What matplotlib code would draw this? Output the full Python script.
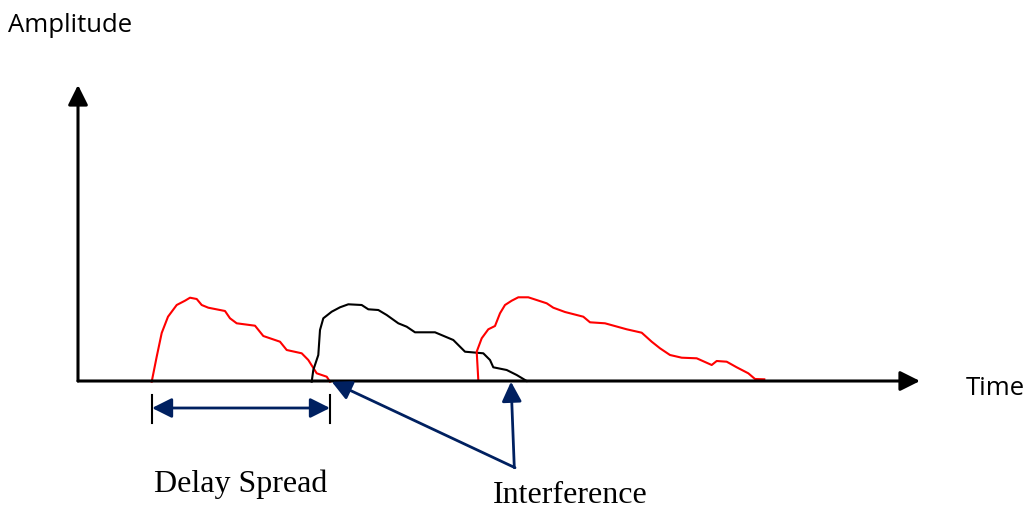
import matplotlib.pyplot as plt

# pulse shapes: time / amplitude (origin at the axis corner)
red1_t = [73.7, 78.7, 83.7, 90, 98.7, 107, 112, 118.7, 123.7, 130.3, 147, 152, 158.7,
          177, 185.3, 202, 208.7, 223.7, 230.3, 238.7, 248.7, 252]
red1_a = [-0.7, 24.3, 48, 64.3, 76, 80.3, 83.3, 82, 76, 73.3, 70, 62.7, 57.7,
          55.3, 45, 39.3, 31, 27.7, 21, 7.7, 4.3, -0.7]

black_t = [233.7, 235.3, 240.3, 242, 245.3, 253.7, 262, 270.3, 283.7, 290.3, 300.3,
           308.7, 320.3, 328.7, 337, 357, 375.3, 387, 405.3, 412, 415.3, 428.7,
           438.7, 448.7]
black_a = [-0.7, 11, 26, 51, 62.7, 69.3, 73.7, 76.7, 76, 71.7, 71, 66, 57.7, 54.3,
           48.7, 48.7, 41, 29.3, 27.7, 21, 13.7, 11, 6, 0]

red2_t = [400.3, 398.7, 403.7, 410.3, 417, 422, 427, 433.7, 440.3, 450.3, 468.7,
          475.3, 487, 505.3, 512, 527, 548.7, 563.7, 573.7, 582, 592, 603.7, 618.7,
          633.7, 638.7, 648.7, 658.7, 670.3, 677, 686.3]
red2_a = [1, 29.3, 42.7, 51.7, 55, 67.7, 76, 80.3, 83.7, 83.7, 77.7, 73.3, 69, 64.3,
          58.7, 57.7, 51.7, 48.3, 39.3, 32.7, 26, 23.3, 22.7, 16, 20, 19.3, 13.7,
          7.7, 2, 1.7]

navy = "#002060"

fig = plt.figure(figsize=(10.27, 5.07), dpi=100)
ax = fig.add_axes([0, 0, 1, 1])
ax.set_xlim(-78, 949)
ax.set_ylim(-126, 381)
ax.axis("off")

ax.plot(red1_t, red1_a, color="red", lw=1.5)
ax.plot(black_t, black_a, color="black", lw=1.5)
ax.plot(red2_t, red2_a, color="red", lw=1.5)

# axes with arrow heads
axis_arrow = dict(arrowstyle="-|>,head_length=0.6,head_width=0.3", color="black",
                  lw=2.2, mutation_scale=20, shrinkA=0, shrinkB=0)
ax.annotate("", xy=(842, 0), xytext=(0, 0), arrowprops=axis_arrow)
ax.annotate("", xy=(0, 296), xytext=(0, 0), arrowprops=axis_arrow)

ax.text(-70, 349, "Amplitude", fontsize=18.5, family="Open Sans", va="baseline")
ax.text(888, -14, "Time", fontsize=18.5, family="Open Sans", va="baseline")

# delay spread marker
ax.plot([74, 74], [-14, -42], color="black", lw=1.5)
ax.plot([252, 252], [-14, -42], color="black", lw=1.5)
ax.annotate("", xy=(252, -27), xytext=(74, -27),
            arrowprops=dict(arrowstyle="<|-|>,head_length=0.6,head_width=0.3",
                            color=navy, lw=2, mutation_scale=20,
                            shrinkA=0, shrinkB=0))
ax.text(163, -111, "Delay Spread", fontsize=23, family="Liberation Serif",
        ha="center", va="baseline")

# interference pointers
ptr = dict(arrowstyle="-|>,head_length=0.6,head_width=0.3", color=navy, lw=2,
           mutation_scale=20, shrinkA=0, shrinkB=0)
ax.annotate("", xy=(253.7, -0.7), xytext=(437, -86.7), arrowprops=ptr)
ax.annotate("", xy=(433, -0.7), xytext=(436.3, -86.7), arrowprops=ptr)
ax.text(492, -122, "Interference", fontsize=23, family="Liberation Serif",
        ha="center", va="baseline")

fig.savefig("out.png", dpi=100)
